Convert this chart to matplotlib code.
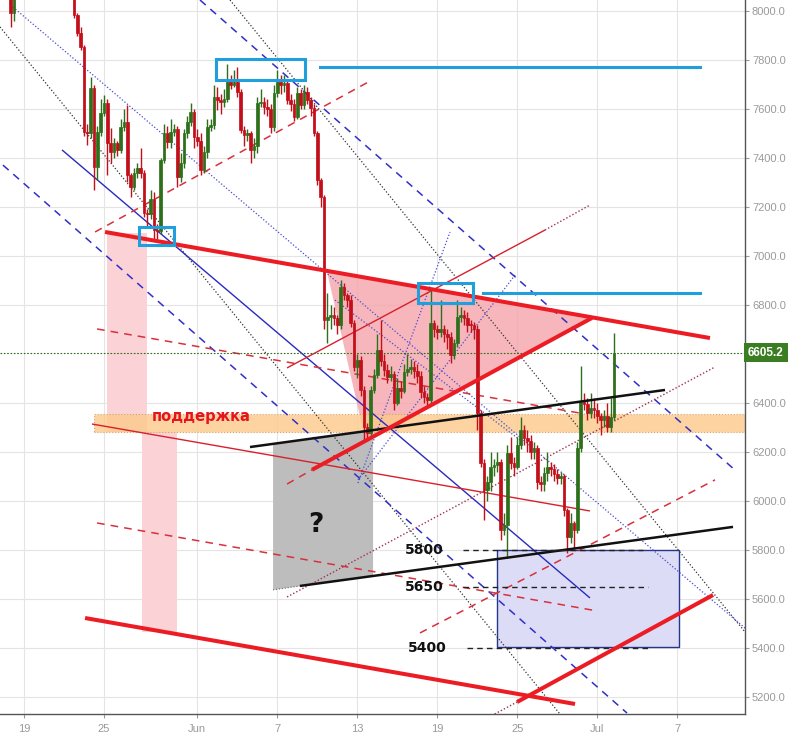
import matplotlib
matplotlib.use('Agg')
import matplotlib.pyplot as plt
import matplotlib.transforms as mtransforms
from matplotlib.patches import Polygon, Rectangle

# ---------------- data ----------------
# time axis: day index, 0 = 19 May; 6-hour candles starting at day -1.0
first_t = -1.0
step = 0.25
first_open = 8150
closes = [7990, 8120, 8200, 8280, 8250, 8350, 8420, 8380, 8480, 8520, 8450, 8400, 8430, 8350, 8300, 8250, 8180, 8120, 8090,
          7984, 7910, 7853, 7506, 7500, 7686, 7363, 7506, 7584, 7624, 7461, 7424, 7461, 7433, 7527, 7547, 7330, 7282, 7339, 7359,
          7340, 7175, 7170, 7232, 7106, 7100, 7392, 7502, 7465, 7506, 7520, 7322, 7380, 7502, 7547, 7588, 7486, 7470, 7351, 7424,
          7527, 7535, 7649, 7637, 7630, 7640, 7710, 7700, 7710, 7670, 7514, 7494, 7500, 7433, 7450, 7624, 7630, 7608, 7600, 7527,
          7665, 7710, 7698, 7705, 7637, 7620, 7567, 7665, 7616, 7670, 7637, 7604, 7502, 7310, 7241, 6739, 6750, 6760, 6745, 6718,
          6873, 6841, 6820, 6727, 6547, 6575, 6453, 6302, 6277, 6453, 6514, 6616, 6570, 6535, 6506, 6520, 6400, 6461, 6450, 6527,
          6540, 6545, 6530, 6510, 6445, 6424, 6412, 6727, 6700, 6690, 6700, 6680, 6670, 6596, 6645, 6751, 6759, 6745, 6720, 6718,
          6700, 6359, 6155, 6045, 6077, 6139, 6145, 6159, 5881, 5900, 6196, 6155, 6140, 6228, 6290, 6257, 6245, 6200, 6215, 6077,
          6070, 6114, 6139, 6130, 6110, 6095, 6100, 5963, 5853, 5910, 5880, 6216, 6404, 6395, 6359, 6380, 6370, 6345, 6331, 6345,
          6302, 6343, 6605.2]
highs = [8180, 8160, 8240, 8320, 8300, 8390, 8460, 8430, 8520, 8560, 8500, 8440, 8470, 8400, 8340, 8290, 8230, 8160, 8130,
         8100, 7990, 7935, 7860, 7540, 7730, 7700, 7530, 7640, 7657, 7640, 7522, 7480, 7470, 7560, 7600, 7616, 7340, 7360, 7380,
         7441, 7350, 7190, 7270, 7261, 7130, 7400, 7540, 7530, 7560, 7540, 7530, 7420, 7520, 7570, 7624, 7600, 7520, 7500, 7450,
         7560, 7560, 7700, 7690, 7660, 7680, 7784, 7740, 7760, 7770, 7680, 7530, 7520, 7510, 7480, 7650, 7680, 7650, 7640, 7620,
         7700, 7760, 7740, 7740, 7720, 7660, 7640, 7690, 7680, 7700, 7690, 7650, 7620, 7510, 7320, 7250, 6849, 6800, 6790, 6760,
         6900, 6890, 6850, 6840, 6740, 6600, 6590, 6470, 6320, 6470, 6540, 6680, 6740, 6600, 6560, 6550, 6530, 6500, 6490, 6560,
         6600, 6580, 6570, 6560, 6530, 6470, 6440, 6861, 6740, 6720, 6820, 6720, 6700, 6690, 6660, 6820, 6790, 6780, 6770, 6740,
         6730, 6720, 6370, 6170, 6100, 6200, 6170, 6200, 6170, 5950, 6230, 6260, 6180, 6260, 6343, 6310, 6290, 6270, 6240, 6230,
         6100, 6140, 6200, 6160, 6150, 6130, 6120, 6110, 5970, 5950, 5920, 6240, 6551, 6440, 6420, 6440, 6420, 6400, 6360, 6370,
         6400, 6420, 6686]
lows = [7935, 7960, 8100, 8180, 8220, 8230, 8330, 8360, 8360, 8460, 8420, 8370, 8380, 8330, 8280, 8220, 8150, 8100, 8070,
        7970, 7900, 7840, 7490, 7453, 7480, 7270, 7310, 7490, 7570, 7330, 7380, 7400, 7410, 7420, 7510, 7300, 7240, 7270, 7320,
        7320, 7160, 7120, 7150, 7065, 7070, 7090, 7380, 7440, 7440, 7490, 7282, 7300, 7360, 7480, 7530, 7440, 7450, 7330, 7340,
        7400, 7510, 7520, 7596, 7580, 7610, 7630, 7680, 7690, 7650, 7500, 7450, 7470, 7380, 7400, 7420, 7610, 7580, 7570, 7500,
        7510, 7650, 7660, 7670, 7620, 7590, 7550, 7560, 7600, 7600, 7620, 7570, 7490, 7290, 7200, 6700, 6645, 6700, 6720, 6680,
        6700, 6820, 6790, 6710, 6530, 6500, 6430, 6249, 6250, 6260, 6440, 6500, 6550, 6510, 6480, 6490, 6370, 6390, 6420, 6440,
        6510, 6520, 6500, 6480, 6420, 6400, 6380, 6400, 6670, 6660, 6670, 6650, 6620, 6563, 6580, 6630, 6730, 6720, 6690, 6690,
        6660, 6290, 6140, 5922, 6000, 6040, 6100, 6120, 5840, 5860, 5767, 6130, 6100, 6130, 6210, 6230, 6200, 6170, 6170, 6050,
        6040, 6040, 6080, 6100, 6080, 6070, 6070, 5940, 5788, 5830, 5808, 5870, 6200, 6370, 6330, 6340, 6340, 6320, 6270, 6300,
        6280, 6280, 6330]

last_price = 6605.2
tick_days = [0, 6, 13, 19, 25, 31, 37, 43, 49]
tick_labels = ['19', '25', 'Jun', '7', '13', '19', '25', 'Jul', '7']
price_ticks = [5200, 5400, 5600, 5800, 6000, 6200, 6400, 6800, 7000, 7200, 7400, 7600, 7800, 8000]

# drawings (day index, price)
red_thick = [((6.08, 7098), (51.45, 6665)), ((21.6, 6127), (42.6, 6747)),
             ((4.58, 5522), (41.33, 5171)), ((36.98, 5179), (51.68, 5616))]
red_thin = [((19.73, 6543), (39.08, 7106)), ((5.1, 6314), (42.45, 5959))]
red_dashed = [((5.33, 7098), (25.95, 7714)), ((29.7, 5461), (51.83, 6086)),
              ((5.48, 6702), (42.08, 6355)), ((5.48, 5910), (42.98, 5551)),
              ((19.73, 6069), (21.6, 6127))]
maroon_dotted = [((19.73, 5608), (51.83, 6547)), ((39.08, 7106), (42.45, 7208)),
                 ((35.3, 5130), (36.98, 5179))]
black_thick = [((16.95, 6220), (48.08, 6453)), ((20.7, 5653), (53.18, 5894))]
black_dotted = [((-1.8, 7935), (40.2, 5130)), ((15.45, 8045), (54.08, 5465))]
blue_solid = [((2.85, 7433), (42.45, 5604))]
blue_dashed = [((-1.58, 7371), (45.23, 5134)), ((13.2, 8045), (53.33, 6126))]
blue_dotted = [((-0.83, 8016), (54.08, 5481)), ((23.33, 6820), (37.2, 6249)),
               ((25.05, 6073), (31.95, 7098)), ((25.05, 6086), (36.83, 6922))]
triangle = [(22.73, 6935), (42.6, 6747), (25.6, 6250)]
pink_columns = [((6.23, 9.23), (6281, 7094)), ((8.85, 11.48), (5465, 6281))]
support_band = ((5.25, 55.0), (6281, 6355))
gray_zone = [(18.68, 6232), (26.18, 6286), (26.18, 5694), (18.68, 5637)]
target_box = ((35.48, 49.13), (5404, 5800))
cyan_boxes = [((14.4, 21.08), (7718, 7804)), ((8.63, 11.25), (7045, 7118)), ((29.55, 33.68), (6808, 6890))]
cyan_levels = [(7771, 22.2, 50.7), (6849, 34.43, 50.7)]
level_values = [5800, 5650, 5400]
level_labels = ['5800', '5650', '5400']
level_spans = [(32.93, 46.43), (32.93, 46.8), (33.23, 46.8)]
level_label_x = [30.0, 30.0, 30.23]

# ---------------- figure ----------------
fig = plt.figure(figsize=(7.93, 7.34), dpi=100)
fig.patch.set_facecolor('white')
ax = fig.add_axes([0.0, 0.0272, 0.9395, 0.9728])
ax.set_xlim(-1.8, 54.08)
ax.set_ylim(5130, 8045)

ax.grid(True, color='#e4e4e4', lw=0.8, zorder=0)
ax.set_axisbelow(True)

# fills
for (x0, x1), (y0, y1) in pink_columns:
    ax.add_patch(Rectangle((x0, y0), x1 - x0, y1 - y0, fc='#fbd3d6', ec='none', zorder=1))
(bx0, bx1), (by0, by1) = support_band
ax.add_patch(Rectangle((bx0, by0), bx1 - bx0, by1 - by0, fc='#fcc98a', alpha=0.8, ec='#c89a60',
                       lw=0.8, ls=':', zorder=1.2))
ax.add_patch(Polygon(gray_zone, closed=True, fc='#bdbdbd', ec='none', zorder=1.1))
ax.plot([gray_zone[3][0], 20.7], [gray_zone[3][1], 5653], color='#666', lw=0.8, ls=':', zorder=1.2)
ax.add_patch(Polygon(triangle, closed=True, fc='#f5a9b0', alpha=0.85, ec='none', zorder=1.1))
(tx0, tx1), (ty0, ty1) = target_box
ax.add_patch(Rectangle((tx0, ty0), tx1 - tx0, ty1 - ty0, fc='#dcdcf6', ec='#27358a', lw=1.0, zorder=1.3))

# candles
opens = [first_open] + closes[:-1]
times = [first_t + step * i for i in range(len(closes))]
for t, o, h, l, c in zip(times, opens, highs, lows, closes):
    col = '#2d6f1a' if c >= o else '#c20f1a'
    ax.vlines(t, l, h, color=col, lw=1.0, zorder=3)
    body = max(abs(c - o), 5)
    ax.bar(t, body, bottom=min(o, c), width=0.21, color=col, edgecolor=col, lw=0.5, zorder=3.1)

# last price line
ax.axhline(last_price, color='#2e6b1e', lw=0.8, ls=(0, (1.5, 1.5)), zorder=2.5)


def draw(segs, **kw):
    for (x0, y0), (x1, y1) in segs:
        ax.plot([x0, x1], [y0, y1], solid_capstyle='butt', **kw)


draw(black_dotted, color='#333333', lw=0.9, ls=(0, (1, 1.6)), zorder=2)
draw(blue_dotted, color='#4a4ad0', lw=0.9, ls=(0, (1, 1.6)), zorder=2)
draw(blue_dashed, color='#3030c8', lw=1.1, ls=(0, (5, 4)), zorder=2)
draw(blue_solid, color='#2a2ac0', lw=1.0, zorder=2)
draw(red_dashed, color='#d8303c', lw=1.1, ls=(0, (5, 4)), zorder=2)
draw(maroon_dotted, color='#a03050', lw=1.0, ls=(0, (1, 1.5)), zorder=2)
draw(red_thin, color='#d8202c', lw=1.0, zorder=2)
draw(black_thick, color='#111111', lw=1.8, zorder=4)
draw(red_thick, color='#ec1c24', lw=2.9, zorder=4.2)

# cyan boxes and levels
for (x0, x1), (y0, y1) in cyan_boxes:
    ax.add_patch(Rectangle((x0, y0), x1 - x0, y1 - y0, fc='none', ec='#1f9fdc', lw=2.2, zorder=5))
for y, x0, x1 in cyan_levels:
    ax.plot([x0, x1], [y, y], color='#1f9fdc', lw=2.2, zorder=5)

# target levels
for v, lab, (x0, x1), lx in zip(level_values, level_labels, level_spans, level_label_x):
    ax.plot([x0, x1], [v, v], color='#222222', lw=1.0, ls=(0, (4, 3)), zorder=4)
    ax.text(lx, v, lab, ha='center', va='center', fontsize=10, fontweight='bold', color='#111111',
            family='DejaVu Sans', zorder=6)

ax.text(13.28, 6343, 'поддержка', ha='center', va='center', fontsize=10.5, fontweight='bold',
        color='#e5141e', family='DejaVu Sans', zorder=6)
ax.text(21.9, 5902, '?', ha='center', va='center', fontsize=19, fontweight='bold', color='#111111',
        family='DejaVu Sans', zorder=6)

# axes styling
ax.yaxis.tick_right()
ax.set_yticks(price_ticks)
ax.set_yticklabels(['%.1f' % v for v in price_ticks])
ax.set_xticks(tick_days)
ax.set_xticklabels(tick_labels)
ax.tick_params(axis='y', colors='#9a9a9a', labelsize=8, length=3, pad=2, direction='out')
ax.tick_params(axis='x', colors='#9a9a9a', labelsize=8, length=3, pad=4, direction='out')
for lab in ax.get_xticklabels() + ax.get_yticklabels():
    lab.set_family('Liberation Sans')
for s in ['top', 'left']:
    ax.spines[s].set_visible(False)
for s in ['right', 'bottom']:
    ax.spines[s].set_color('#555555')
    ax.spines[s].set_linewidth(1.0)

trans = mtransforms.blended_transform_factory(ax.transAxes, ax.transData)
ax.text(1.004, last_price, '%.1f' % last_price, transform=trans, ha='left', va='center', fontsize=8.5,
        fontweight='bold', color='white', family='Liberation Sans',
        bbox=dict(boxstyle='square,pad=0.32', fc='#3b7d22', ec='none'), zorder=7, clip_on=False)

fig.savefig('out.png', dpi=100, facecolor='white')
